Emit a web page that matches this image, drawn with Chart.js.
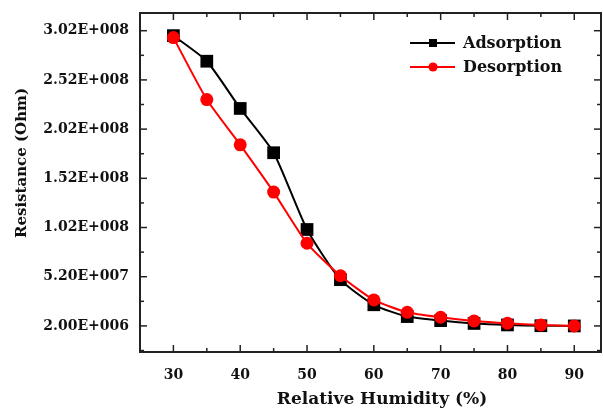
<!DOCTYPE html>
<html>
<head>
<meta charset="utf-8">
<script src="https://cdn.jsdelivr.net/npm/chart.js@4.4.0/dist/chart.umd.min.js"></script>
<style>
  html, body { margin: 0; padding: 0; background: #fff; }
  #wrap { width: 603px; height: 410px; }
</style>
</head>
<body>
<div id="wrap"><canvas id="rhChart" width="603" height="410"></canvas></div>
<script>
// humidity steps (%)
const humidity = [30, 35, 40, 45, 50, 55, 60, 65, 70, 75, 80, 85, 90];

// resistance (Ohm)
const adsorption = [2.97e8, 2.71e8, 2.23e8, 1.78e8, 1.0e8, 4.9e7, 2.35e7, 1.15e7, 7.4e6, 4.5e6, 3.0e6, 2.2e6, 2.0e6];
const desorption = [2.95e8, 2.32e8, 1.86e8, 1.38e8, 8.6e7, 5.3e7, 2.84e7, 1.59e7, 1.08e7, 7.1e6, 4.7e6, 3.0e6, 2.0e6];

// axis ticks
const xTickValues = [30, 40, 50, 60, 70, 80, 90];
const yTickValues = [2.0e6, 5.2e7, 1.02e8, 1.52e8, 2.02e8, 2.52e8, 3.02e8];
const yTickLabels = ['2.00E+006', '5.20E+007', '1.02E+008', '1.52E+008', '2.02E+008', '2.52E+008', '3.02E+008'];

const xTitle = 'Relative Humidity (%)';
const yTitle = 'Resistance (Ohm)';

const serif = "'DejaVu Serif', 'Liberation Serif', serif";

// inward major/minor ticks, closed frame, axis titles and legend
const frameTicks = {
    id: 'frameTicks',
    afterDraw(chart) {
        const ctx = chart.ctx;
        const area = chart.chartArea;
        const xs = chart.scales.x;
        const ys = chart.scales.y;
        ctx.save();
        ctx.strokeStyle = '#222';
        ctx.lineWidth = 2;
        ctx.strokeRect(area.left, area.top, area.right - area.left, area.bottom - area.top);

        ctx.lineWidth = 1.5;
        function tick(x1, y1, x2, y2) {
            ctx.beginPath();
            ctx.moveTo(x1, y1);
            ctx.lineTo(x2, y2);
            ctx.stroke();
        }
        const xMinor = [];
        for (let i = 0; i < xTickValues.length - 1; i++) xMinor.push((xTickValues[i] + xTickValues[i + 1]) / 2);
        const yMinor = [yTickValues[0] - (yTickValues[1] - yTickValues[0]) / 2];
        for (let i = 0; i < yTickValues.length - 1; i++) yMinor.push((yTickValues[i] + yTickValues[i + 1]) / 2);

        xTickValues.forEach(v => {
            const px = xs.getPixelForValue(v);
            tick(px, area.bottom, px, area.bottom - 7);
            tick(px, area.top, px, area.top + 7);
        });
        xMinor.forEach(v => {
            const px = xs.getPixelForValue(v);
            tick(px, area.bottom, px, area.bottom - 4);
            tick(px, area.top, px, area.top + 4);
        });
        yTickValues.forEach(v => {
            const py = ys.getPixelForValue(v);
            tick(area.left, py, area.left + 7, py);
            tick(area.right, py, area.right - 7, py);
        });
        yMinor.forEach(v => {
            const py = ys.getPixelForValue(v);
            if (py > area.bottom || py < area.top) return;
            tick(area.left, py, area.left + 4, py);
            tick(area.right, py, area.right - 4, py);
        });

        // axis titles
        ctx.fillStyle = '#111';
        ctx.textAlign = 'center';
        ctx.textBaseline = 'middle';
        ctx.font = 'bold 17px ' + serif;
        ctx.fillText(xTitle, 382, area.bottom + 48);
        ctx.save();
        ctx.translate(22, area.top + 150);
        ctx.rotate(-Math.PI / 2);
        ctx.font = 'bold 15px ' + serif;
        ctx.fillText(yTitle, 0, 0);
        ctx.restore();

        // legend in the top right corner
        const lx = area.right - 191;
        let ly = area.top + 30;
        ctx.font = 'bold 16px ' + serif;
        ctx.textBaseline = 'middle';
        ctx.textAlign = 'left';
        chart.data.datasets.forEach(ds => {
            ctx.strokeStyle = ds.borderColor;
            ctx.lineWidth = 2;
            tick(lx, ly, lx + 45, ly);
            ctx.fillStyle = ds.pointBackgroundColor;
            Chart.helpers.drawPoint(ctx, {
                pointStyle: ds.pointStyle,
                radius: ds.pointStyle === 'rect' ? 5.7 : 4.6,
                rotation: 0,
                borderWidth: 0
            }, lx + 23, ly);
            ctx.fillStyle = '#111';
            ctx.fillText(ds.label, lx + 53, ly + 1);
            ly += 24;
        });
        ctx.restore();
    }
};

new Chart(document.getElementById('rhChart'), {
    type: 'line',
    data: {
        labels: humidity,
        datasets: [{
            label: 'Adsorption',
            data: humidity.map((h, i) => ({ x: h, y: adsorption[i] })),
            borderColor: '#000',
            backgroundColor: '#000',
            pointBackgroundColor: '#000',
            pointBorderColor: '#000',
            borderWidth: 2,
            pointStyle: 'rect',
            pointRadius: 9,
            pointBorderWidth: 0,
            tension: 0.2,
            order: 1
        }, {
            label: 'Desorption',
            data: humidity.map((h, i) => ({ x: h, y: desorption[i] })),
            borderColor: '#ff0000',
            backgroundColor: '#ff0000',
            pointBackgroundColor: '#ff0000',
            pointBorderColor: '#ff0000',
            borderWidth: 2,
            pointStyle: 'circle',
            pointRadius: 6.5,
            pointBorderWidth: 0,
            tension: 0.2,
            order: 0
        }]
    },
    options: {
        responsive: false,
        animation: false,
        layout: { autoPadding: false, padding: { top: 13, right: 2, left: 0, bottom: 0 } },
        plugins: {
            legend: { display: false },
            tooltip: { enabled: false }
        },
        scales: {
            x: {
                type: 'linear',
                min: 25,
                max: 94,
                grid: { display: false, drawTicks: false },
                border: { display: false },
                afterBuildTicks: scale => { scale.ticks = xTickValues.map(v => ({ value: v })); },
                afterFit: scale => {
                    scale.height = 58;
                    scale.paddingLeft = 0;
                    scale.paddingRight = 0;
                },
                ticks: {
                    color: '#111',
                    padding: 15,
                    font: { family: serif, size: 14, weight: 'bold' },
                    callback: v => String(v)
                }
            },
            y: {
                min: -2.45e7,
                max: 3.2e8,
                grid: { display: false, drawTicks: false },
                border: { display: false },
                afterBuildTicks: scale => { scale.ticks = yTickValues.map(v => ({ value: v })); },
                afterFit: scale => {
                    scale.width = 140;
                    scale.paddingTop = 0;
                    scale.paddingBottom = 0;
                },
                ticks: {
                    color: '#111',
                    padding: 11,
                    font: { family: serif, size: 14, weight: 'bold' },
                    callback: v => yTickLabels[yTickValues.indexOf(v)]
                }
            }
        }
    },
    plugins: [frameTicks]
});
</script>
</body>
</html>
